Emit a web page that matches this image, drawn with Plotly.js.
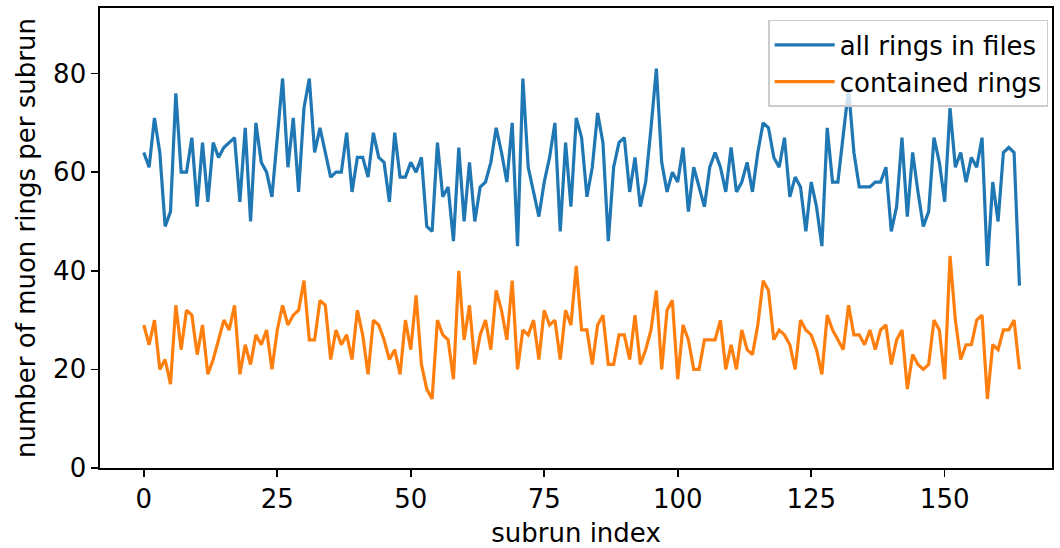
<!DOCTYPE html>
<html>
<head>
<meta charset="utf-8">
<script src="https://cdn.plot.ly/plotly-3.0.1.min.js"></script>
<style>html,body{margin:0;padding:0;background:#fff;}#chart{width:1060px;height:548px;}</style>
</head>
<body>
<div id="chart"></div>
<script>
const allRings = [64,61,71,64,49,52,76,60,60,67,53,66,54,66,63,65,66,67,54,69,
50,70,62,60,55,67,79,61,71,56,73,79,64,69,64,59,60,60,68,56,
63,63,59,68,63,62,54,68,59,59,62,60,63,49,48,66,55,57,46,65,
50,62,50,57,58,62,69,64,58,70,45,79,61,56,51,58,63,70,48,66,
53,71,67,55,61,72,66,46,61,66,67,56,63,53,58,69,81,62,56,60,
58,65,52,61,57,53,61,64,61,56,65,56,58,62,56,64,70,69,63,61,
67,55,59,57,48,58,53,45,69,58,58,67,77,64,57,57,57,58,58,61,
48,53,67,51,64,56,49,52,67,62,54,73,61,64,58,63,61,67,41,58,
50,64,65,64,37];
const containedRings = [29,25,30,20,22,17,33,24,32,31,23,29,19,22,26,30,28,33,19,25,
21,27,25,28,20,28,33,29,31,32,38,26,26,34,33,22,28,25,27,22,
32,27,19,30,29,26,22,24,19,30,24,35,21,16,14,30,27,26,18,40,
26,33,21,27,30,24,36,32,26,38,20,28,27,30,22,32,29,30,22,32,
29,41,28,28,21,29,31,21,21,27,27,22,31,21,24,28,36,20,32,34,
18,29,26,20,20,26,26,26,30,20,25,20,28,24,23,29,38,36,26,28,
27,25,20,30,28,27,24,19,31,28,26,24,33,27,27,25,28,24,28,29,
21,26,28,16,23,21,20,21,30,28,18,43,30,22,25,25,30,31,14,25,
24,28,28,30,20];
const seriesNames = ["all rings in files", "contained rings"];
const subrunIndex = allRings.map((_, i) => i);
const xTicks = [0, 25, 50, 75, 100, 125, 150];
const yTicks = [0, 20, 40, 60, 80];

const font = {family: "DejaVu Sans, sans-serif", size: 26, color: "#000"};
const traces = [
  {x: subrunIndex, y: allRings, name: seriesNames[0], type: "scatter", mode: "lines",
   line: {color: "#1f77b4", width: 3.2}},
  {x: subrunIndex, y: containedRings, name: seriesNames[1], type: "scatter", mode: "lines",
   line: {color: "#ff7f0e", width: 3.2}}
];
const axisCommon = {showline: true, linecolor: "#000", linewidth: 1.6, mirror: true,
  ticks: "outside", ticklen: 7, tickwidth: 1.6, tickcolor: "#000", showgrid: false,
  zeroline: false, tickfont: font};
const layout = {
  width: 1060, height: 548,
  margin: {l: 100, r: 8, t: 8, b: 80},
  paper_bgcolor: "#fff", plot_bgcolor: "#fff",
  font: font,
  showlegend: true,
  legend: {x: 0.996, y: 0.974, xanchor: "right", yanchor: "top",
    bgcolor: "rgba(255,255,255,0.8)", bordercolor: "#cccccc", borderwidth: 1.5,
    font: {family: "DejaVu Sans, sans-serif", size: 26, color: "#000"},
    tracegroupgap: 4, itemwidth: 60},
  xaxis: Object.assign({}, axisCommon, {range: [-8.2, 170.1], tickvals: xTicks,
    title: {text: "subrun index", font: font, standoff: 12}}),
  yaxis: Object.assign({}, axisCommon, {range: [0, 93.3], tickvals: yTicks,
    title: {text: "number of muon rings per subrun", font: font, standoff: 10}})
};
Plotly.newPlot("chart", traces, layout, {displayModeBar: false, staticPlot: true});
</script>
</body>
</html>
